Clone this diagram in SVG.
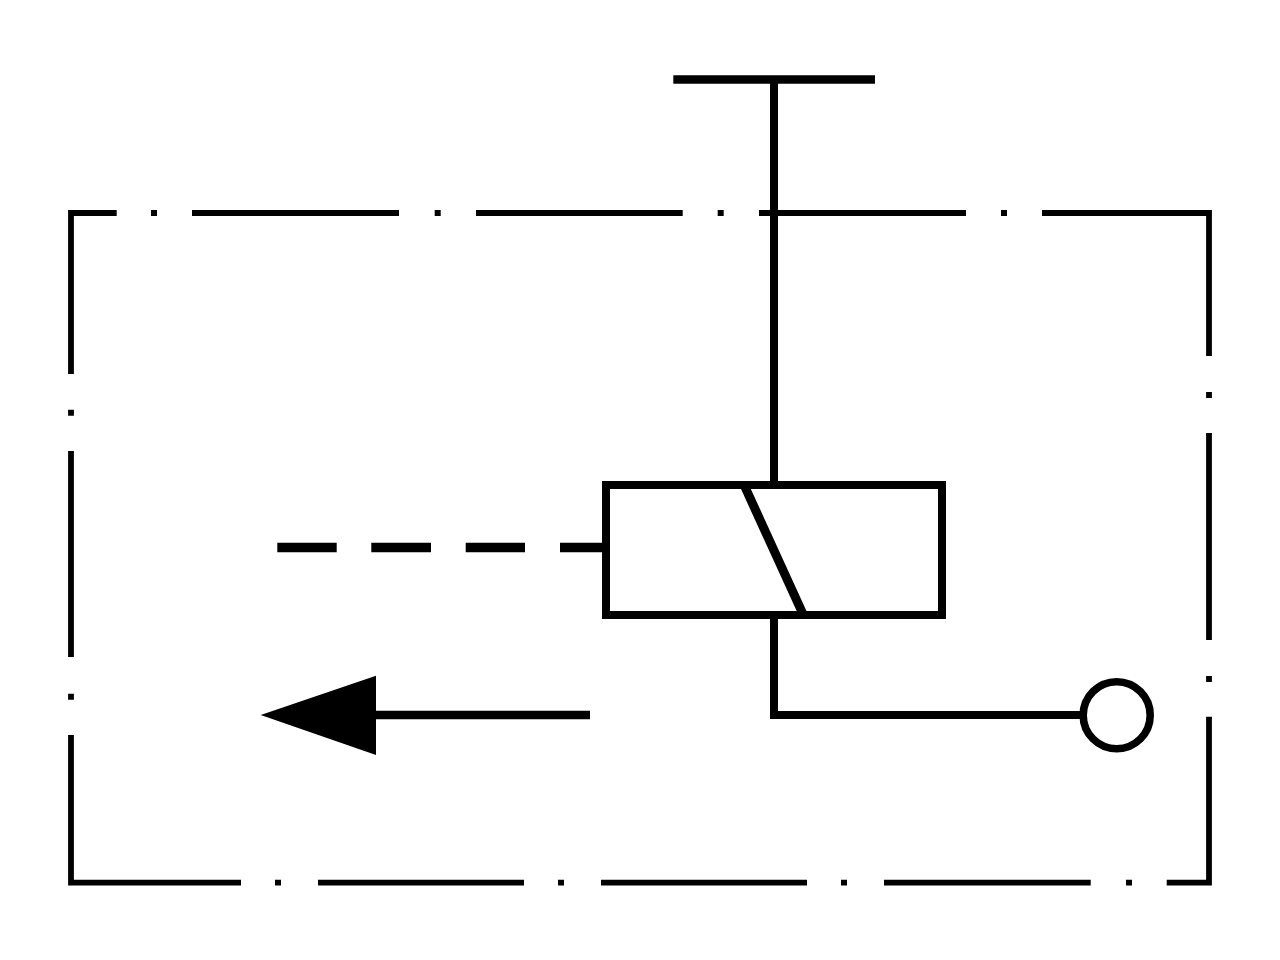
<svg xmlns="http://www.w3.org/2000/svg" width="1280" height="960" viewBox="0 0 1280 960">
<style>
.l{fill:none;stroke:#000;stroke-linecap:butt}
.b{stroke-width:5.800}
.m{stroke-width:8}
.h{stroke-width:8.500}
.d{stroke-width:9.500}
</style>
<rect width="1280" height="960" fill="#fff"/>
<g id="enclosure" class="l b">
<path d="M116.700 213H71V374M71 409.700V415.700M71 451V657M71 693.700V699.700M71 735V882.600H241M275 882.600H281M318 882.600H524M558 882.600H564M601 882.600H807M841 882.600H847M884 882.600H1090.700M1126 882.600H1132M1166.700 882.600H1209V716.700M1209 676V682M1209 640V433M1209 392V398M1209 356V213H1042M1007 213H1001M966 213H759M723.700 213H717.700M682.700 213H476M440.700 213H434.700M399 213H192M157 213H151"/>
</g>
<g id="connectors" class="l m">
<path class="h" d="M673.300 79.500H875"/>
<path d="M774 79.500V485"/>
<path class="d" d="M277.300 547.500H336.700M371.300 547.500H431M465.700 547.500H525M560 547.500H606"/>
<path d="M774 615V715H1083"/>
<path class="h" d="M376 715H590"/>
</g>
<g id="coil" class="l m">
<rect x="606" y="485" width="336" height="130"/>
<path style="stroke-width:9" d="M745 487L802.500 613"/>
</g>
<g id="arrow"><path d="M260.700 715L376 675.700V755Z" fill="#000"/></g>
<g id="terminal"><circle cx="1116.700" cy="715.200" r="33.500" fill="#fff" stroke="#000" stroke-width="7.600"/></g>
</svg>
